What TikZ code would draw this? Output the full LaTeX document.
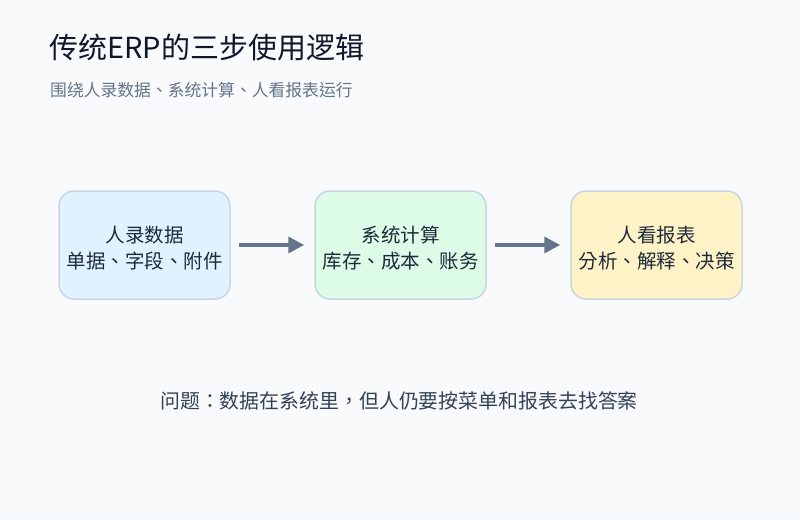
\documentclass[tikz,border=0pt]{standalone}
\usepackage{fontspec}
\setmainfont{Noto Sans CJK TC}
\usetikzlibrary{arrows.meta}
\definecolor{bgc}{HTML}{F8FAFC}
\definecolor{titlec}{HTML}{0F172A}
\definecolor{subc}{HTML}{64748B}
\definecolor{textc}{HTML}{1E293B}
\definecolor{notec}{HTML}{334155}
\definecolor{borderc}{HTML}{CBD5E1}
\definecolor{fillA}{HTML}{E0F2FE}
\definecolor{fillB}{HTML}{DCFCE7}
\definecolor{fillC}{HTML}{FEF3C7}
\definecolor{arrowc}{HTML}{64748B}
\newcommand{\toppad}{\rule{0pt}{23pt}}
\tikzset{
  stepbox/.style={draw=borderc, line width=1.5pt, rounded corners=15pt,
    minimum width=171pt, minimum height=108pt, inner sep=0pt,
    align=center, text=textc, font=\fontsize{19.5}{26}\selectfont},
  flowarrow/.style={draw=arrowc, line width=3.5pt,
    -{Triangle[length=16pt,width=16pt]}, shorten <=8pt, shorten >=10pt},
}
\begin{document}
\begin{tikzpicture}[x=1pt,y=-1pt]
\path[fill=bgc] (0,0) rectangle (800,520);
\useasboundingbox (0,0) rectangle (800,520);
\node[anchor=west, text=titlec, font=\fontsize{29}{32}\selectfont, inner sep=0pt] (title) at (49,47.5) {传统ERP的三步使用逻辑};
\node[anchor=west, text=subc, font=\fontsize{16.8}{20}\selectfont, inner sep=0pt] (subtitle) at (50,90) {围绕人录数据、系统计算、人看报表运行};
\node[stepbox, fill=fillA] (a) at (144.5,245) {\toppad 人录数据\\单据、字段、附件};
\node[stepbox, fill=fillB] (b) at (400.5,245) {\toppad 系统计算\\库存、成本、账务};
\node[stepbox, fill=fillC] (c) at (656.5,245) {\toppad 人看报表\\分析、解释、决策};
\draw[flowarrow] (a) -- (b);
\draw[flowarrow] (b) -- (c);
\node[text=notec, font=\fontsize{19.9}{24}\selectfont, inner sep=0pt] (note) at (399,401) {问题：数据在系统里，但人仍要按菜单和报表去找答案};
\end{tikzpicture}
\end{document}
